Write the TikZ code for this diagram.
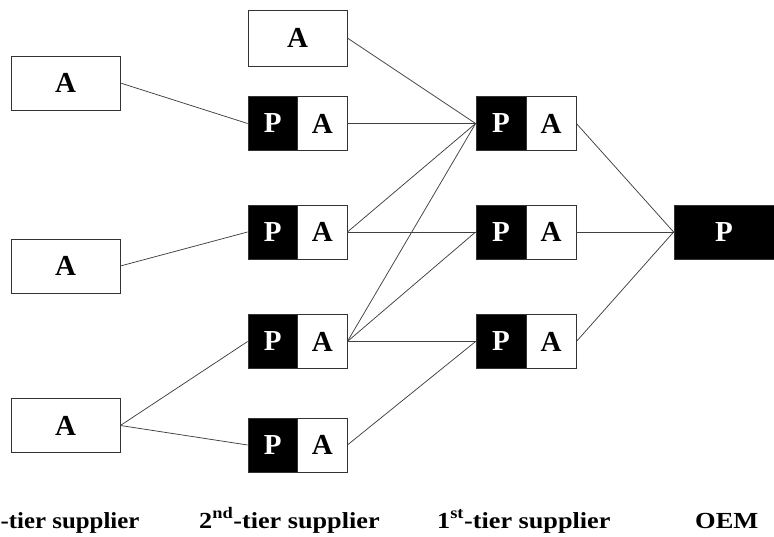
\documentclass[tikz,border=0pt]{standalone}
\usepackage{fontspec}
\setmainfont{Liberation Serif}
\begin{document}
\begin{tikzpicture}[x=1pt,y=-1pt,
  base/.style={draw=black!80, line width=0.8pt, inner sep=0pt, minimum height=54pt,
    font=\bfseries\fontsize{29}{29}\selectfont},
  abox/.style={base, fill=white, minimum width=109pt},
  hbox/.style={base, fill=white, minimum width=49.5pt},
  pbox/.style={base, fill=black, text=white, minimum width=49.5pt},
  thbox/.style={base, fill=white, minimum width=50pt},
  tpbox/.style={base, fill=black, text=white, minimum width=50pt},
  oembox/.style={base, fill=black, text=white, minimum width=100pt},
  conn/.style={draw=black!75, line width=0.75pt},
  lbl/.style={anchor=base west, inner sep=0pt, font=\bfseries\fontsize{23}{23}\selectfont}
]
\useasboundingbox (0,0) rectangle (774,537);

% 3rd tier
\node[abox] (l1) at (65.5,83) {A};
\node[abox] (l2) at (65.5,266) {A};
\node[abox] (l3) at (65.5,425.5) {A};

% 2nd tier
\node[abox, minimum width=99pt, minimum height=56pt] (s0) at (297.5,38) {A};
\node[pbox] (s1p) at (272.75,123.5) {P};
\node[hbox] (s1a) at (322.25,123.5) {A};
\node[pbox] (s2p) at (272.75,232) {P};
\node[hbox] (s2a) at (322.25,232) {A};
\node[pbox] (s3p) at (272.75,341.5) {P};
\node[hbox] (s3a) at (322.25,341.5) {A};
\node[pbox] (s4p) at (272.75,445) {P};
\node[hbox] (s4a) at (322.25,445) {A};

% 1st tier
\node[tpbox] (t1p) at (501,123.5) {P};
\node[thbox] (t1a) at (551,123.5) {A};
\node[tpbox] (t2p) at (501,232) {P};
\node[thbox] (t2a) at (551,232) {A};
\node[tpbox] (t3p) at (501,341.5) {P};
\node[thbox] (t3a) at (551,341.5) {A};

% OEM
\node[oembox] (oem) at (724,232) {P};

% connectors
\draw[conn] (l1.east) -- (s1p.west);
\draw[conn] (l2.east) -- (s2p.west);
\draw[conn] (l3.east) -- (s3p.west);
\draw[conn] (l3.east) -- (s4p.west);
\draw[conn] (s0.east) -- (t1p.west);
\draw[conn] (s1a.east) -- (t1p.west);
\draw[conn] (s2a.east) -- (t1p.west);
\draw[conn] (s2a.east) -- (t2p.west);
\draw[conn] (s3a.east) -- (t1p.west);
\draw[conn] (s3a.east) -- (t2p.west);
\draw[conn] (s3a.east) -- (t3p.west);
\draw[conn] (s4a.east) -- (t3p.west);
\draw[conn] (t1a.east) -- (oem.west);
\draw[conn] (t2a.east) -- (oem.west);
\draw[conn] (t3a.east) -- (oem.west);

% labels
\node[lbl] (lab3) at (0.5,528) {\scalebox{1.08}[1]{-tier supplier}};
\node[lbl] (lab2) at (199,528) {\scalebox{1.14}[1]{2\textsuperscript{nd}-tier supplier}};
\node[lbl] (lab1) at (437,528) {\scalebox{1.14}[1]{1\textsuperscript{st}-tier supplier}};
\node[lbl] (labo) at (695,528) {\scalebox{1.15}[1]{OEM}};
\end{tikzpicture}
\end{document}
